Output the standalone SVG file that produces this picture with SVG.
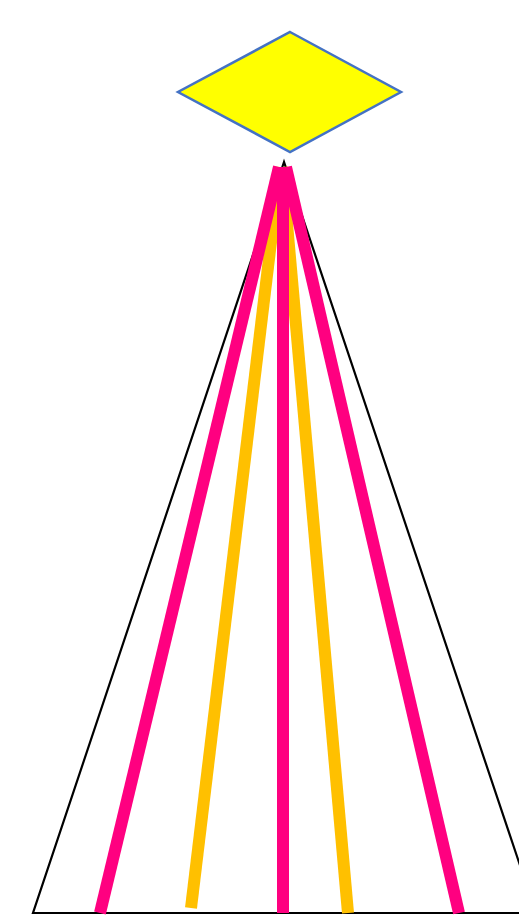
<svg xmlns="http://www.w3.org/2000/svg" width="519" height="916" viewBox="0 0 519 916">
<style>
.tri{fill:none;stroke:#000;stroke-width:2.2}
.pink{stroke:#FF0080;stroke-width:12;fill:none}
.orange{stroke:#FFC000;stroke-width:12;fill:none}
.dia{fill:#FFFF00;stroke:#4472C4;stroke-width:2.5}
</style>
<rect width="519" height="916" fill="#fff"/>
<g id="triangle"><polygon class="tri" points="284,162 33,913 536,913"/></g>
<g id="diamond"><polygon class="dia" points="290,32 401,92 290,152 178,92"/></g>
<g id="connectors">
<line class="orange" x1="280" y1="167" x2="191" y2="908"/>
<line class="orange" x1="282" y1="167" x2="348" y2="913"/>
<line class="pink" x1="279" y1="167" x2="100" y2="913"/>
<line class="pink" x1="283" y1="167" x2="283" y2="913"/>
<line class="pink" x1="286" y1="167" x2="459" y2="913"/>
</g>
</svg>
